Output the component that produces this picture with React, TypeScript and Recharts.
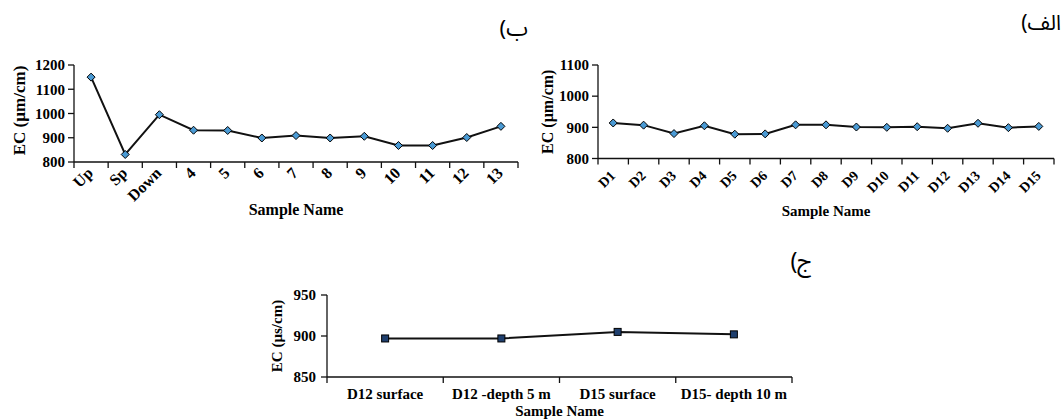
import React from 'react';
import { LineChart, Line, XAxis, YAxis } from 'recharts';

// ---- Data ----
const riverCategories = ['Up', 'Sp', 'Down', '4', '5', '6', '7', '8', '9', '10', '11', '12', '13'];
const riverEC = [1150, 831, 995, 931, 930, 899, 909, 899, 906, 868, 868, 901, 947];
const riverTicks = [800, 900, 1000, 1100, 1200];

const wellCategories = ['D1', 'D2', 'D3', 'D4', 'D5', 'D6', 'D7', 'D8', 'D9', 'D10', 'D11', 'D12', 'D13', 'D14', 'D15'];
const wellEC = [914, 907, 880, 905, 878, 879, 908, 908, 901, 900, 902, 897, 913, 899, 903];
const wellTicks = [800, 900, 1000, 1100];

const depthCategories = ['D12 surface', 'D12 -depth 5 m', 'D15 surface', 'D15- depth 10 m'];
const depthEC = [897, 897, 905, 902];
const depthTicks = [850, 900, 950];

const riverData = riverCategories.map((name, i) => ({ name, ec: riverEC[i] }));
const wellData = wellCategories.map((name, i) => ({ name, ec: wellEC[i] }));
const depthData = depthCategories.map((name, i) => ({ name, ec: depthEC[i] }));

const SERIF = '"Liberation Serif", "Times New Roman", serif';
const AXIS = '#111';

const Diamond = (props: any) => {
  const { cx, cy } = props;
  if (cx == null || cy == null) return null;
  const r = 4;
  return (
    <polygon
      points={`${cx},${cy - r} ${cx + r},${cy} ${cx},${cy + r} ${cx - r},${cy}`}
      fill="#4a9ad4"
      stroke="#000"
      strokeWidth={1}
    />
  );
};

const Square = (props: any) => {
  const { cx, cy } = props;
  if (cx == null || cy == null) return null;
  const s = 7;
  return <rect x={cx - s / 2} y={cy - s / 2} width={s} height={s} fill="#1f3f6e" stroke="#000" strokeWidth={1} />;
};

function makeTick(count: number, plotWidth: number, rotated: boolean, dx: number, dy: number, fontSize: number) {
  const band = plotWidth / count;
  return (props: any) => {
    const { x, y, payload } = props;
    const i = payload.index;
    return (
      <g>
        <line x1={x - band / 2} y1={y} x2={x - band / 2} y2={y + 6} stroke={AXIS} strokeWidth={1.3} />
        {i === count - 1 && (
          <line x1={x + band / 2} y1={y} x2={x + band / 2} y2={y + 6} stroke={AXIS} strokeWidth={1.3} />
        )}
        {rotated ? (
          <text
            x={x + dx}
            y={y + dy}
            textAnchor="end"
            transform={`rotate(-45, ${x + dx}, ${y + dy})`}
            fontFamily={SERIF}
            fontWeight="bold"
            fontSize={fontSize}
            fill="#000"
          >
            {payload.value}
          </text>
        ) : (
          <text x={x} y={y + dy} textAnchor="middle" fontFamily={SERIF} fontWeight="bold" fontSize={fontSize} fill="#000">
            {payload.value}
          </text>
        )}
      </g>
    );
  };
}

const yTickStyle = { fontFamily: SERIF, fontWeight: 'bold' as const, fontSize: 15, fill: '#000' };
const labelStyle = { fontFamily: SERIF, fontWeight: 'bold', fontSize: 15, fill: '#000' };

const persian = (text: string, right: number, top: number, size: number) => (
  <div
    dir="rtl"
    style={{
      position: 'absolute',
      right,
      top,
      fontFamily: '"Noto Sans Arabic", "DejaVu Sans", sans-serif',
      fontSize: size,
      lineHeight: 1,
      color: '#000',
      whiteSpace: 'nowrap',
    }}
  >
    {text}
  </div>
);

export default function App() {
  // chart ب plot: x 74..518, y 65..162
  const bPlotW = 518 - 74;
  const bHalf = bPlotW / riverCategories.length / 2;
  // chart الف plot: x 598..1054, y 65..158.5
  const aPlotW = 1054 - 598;
  const aHalf = aPlotW / wellCategories.length / 2;
  // chart ج plot: x 327..792, y 295..377
  const cPlotW = 792 - 327;
  const cHalf = cPlotW / depthCategories.length / 2;

  return (
    <div style={{ position: 'absolute', left: 0, top: 0, width: 1062, height: 419, background: '#fff', overflow: 'hidden' }}>
      {persian('ب)', 1062 - 528, 18, 22)}
      {persian('الف)', 1062 - 1061, 13, 21)}
      {persian('ج)', 1062 - 812, 250, 23)}

      {/* Chart ب */}
      <div style={{ position: 'absolute', left: 0, top: 0 }}>
        <LineChart width={530} height={225} data={riverData} margin={{ top: 65, right: 530 - 518, left: 0, bottom: 0 }}>
          <XAxis
            dataKey="name"
            height={63}
            interval={0}
            padding={{ left: bHalf, right: bHalf }}
            tickLine={false}
            tickSize={0}
            tickMargin={0}
            axisLine={{ stroke: AXIS, strokeWidth: 1.3 }}
            tick={makeTick(riverCategories.length, bPlotW, true, 3, 12, 16)}
            label={{ value: 'Sample Name', position: 'insideBottom', offset: 10, style: { ...labelStyle, fontSize: 16 } }}
          />
          <YAxis
            width={74}
            domain={[800, 1200]}
            ticks={riverTicks}
            interval={0}
            tickSize={6}
            tickMargin={3}
            tick={yTickStyle}
            axisLine={{ stroke: AXIS, strokeWidth: 1.3 }}
            tickLine={{ stroke: AXIS, strokeWidth: 1.3 }}
            label={{ value: 'EC (µm/cm)', angle: -90, position: 'insideLeft', offset: 19, dy: -3, style: { ...labelStyle, fontSize: 17, textAnchor: 'middle' } }}
          />
          <Line type="linear" dataKey="ec" stroke="#111" strokeWidth={2} dot={<Diamond />} activeDot={false} isAnimationActive={false} />
        </LineChart>
      </div>

      {/* Chart الف */}
      <div style={{ position: 'absolute', left: 530, top: 0 }}>
        <LineChart width={532} height={225} data={wellData} margin={{ top: 65, right: 1062 - 1054, left: 0, bottom: 0 }}>
          <XAxis
            dataKey="name"
            height={66.5}
            interval={0}
            padding={{ left: aHalf, right: aHalf }}
            tickLine={false}
            tickSize={0}
            tickMargin={0}
            axisLine={{ stroke: AXIS, strokeWidth: 1.3 }}
            tick={makeTick(wellCategories.length, aPlotW, true, 3, 18, 14)}
            label={{ value: 'Sample Name', position: 'insideBottom', offset: 9, style: labelStyle }}
          />
          <YAxis
            width={68}
            domain={[800, 1100]}
            ticks={wellTicks}
            interval={0}
            tickSize={6}
            tickMargin={3}
            tick={yTickStyle}
            axisLine={{ stroke: AXIS, strokeWidth: 1.3 }}
            tickLine={{ stroke: AXIS, strokeWidth: 1.3 }}
            label={{ value: 'EC (µm/cm)', angle: -90, position: 'insideLeft', offset: 17, style: { ...labelStyle, fontSize: 16, textAnchor: 'middle' } }}
          />
          <Line type="linear" dataKey="ec" stroke="#111" strokeWidth={2} dot={<Diamond />} activeDot={false} isAnimationActive={false} />
        </LineChart>
      </div>

      {/* Chart ج */}
      <div style={{ position: 'absolute', left: 250, top: 230 }}>
        <LineChart width={550} height={189} data={depthData} margin={{ top: 65, right: 800 - 792, left: 0, bottom: 0 }}>
          <XAxis
            dataKey="name"
            height={42}
            interval={0}
            padding={{ left: cHalf, right: cHalf }}
            tickLine={false}
            tickSize={0}
            tickMargin={0}
            axisLine={{ stroke: AXIS, strokeWidth: 1.3 }}
            tick={makeTick(depthCategories.length, cPlotW, false, 0, 22, 15)}
            label={{ value: 'Sample Name', position: 'insideBottom', offset: 3, style: labelStyle }}
          />
          <YAxis
            width={77}
            domain={[850, 950]}
            ticks={depthTicks}
            interval={0}
            tickSize={6}
            tickMargin={5}
            tick={yTickStyle}
            axisLine={{ stroke: AXIS, strokeWidth: 1.3 }}
            tickLine={{ stroke: AXIS, strokeWidth: 1.3 }}
            label={{ value: 'EC (µs/cm)', angle: -90, position: 'insideLeft', offset: 27, style: { ...labelStyle, textAnchor: 'middle', fontSize: 15 } }}
          />
          <Line type="linear" dataKey="ec" stroke="#111" strokeWidth={2} dot={<Square />} activeDot={false} isAnimationActive={false} />
        </LineChart>
      </div>
    </div>
  );
}
